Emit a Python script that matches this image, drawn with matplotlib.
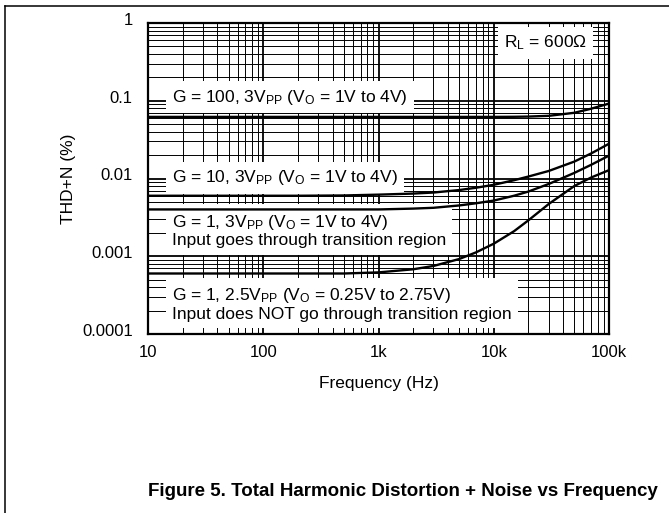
import matplotlib
matplotlib.use("Agg")
import matplotlib.pyplot as plt
from matplotlib.lines import Line2D
from matplotlib.ticker import FixedLocator, LogLocator, NullFormatter
import matplotlib.transforms as mtransforms

plt.rcParams['font.family'] = ['Liberation Sans', 'DejaVu Sans']
plt.rcParams['mathtext.fontset'] = 'custom'
plt.rcParams['mathtext.rm'] = 'Liberation Sans'
plt.rcParams['mathtext.it'] = 'Liberation Sans'

# --- dati ---
freq = [10, 20, 50, 100, 200, 500, 1e3, 2e3, 3e3, 5e3, 7e3, 1e4, 1.5e4, 2e4, 3e4, 5e4, 7e4, 1e5]
thd_g100 = [0.062, 0.062, 0.062, 0.062, 0.062, 0.062, 0.062, 0.062, 0.062, 0.062, 0.062,
            0.062, 0.0622, 0.0626, 0.064, 0.070, 0.079, 0.092]
thd_g10 = [0.006, 0.006, 0.006, 0.006, 0.006, 0.00605, 0.0062, 0.0064, 0.0066, 0.0071, 0.0076,
           0.0083, 0.0095, 0.0106, 0.0125, 0.0165, 0.021, 0.028]
thd_g1 = [0.004, 0.004, 0.004, 0.004, 0.004, 0.004, 0.004, 0.0041, 0.0042, 0.0045, 0.0048,
          0.0052, 0.006, 0.0068, 0.0085, 0.0118, 0.015, 0.0197]
thd_g1_25 = [0.0006, 0.0006, 0.0006, 0.0006, 0.0006, 0.0006, 0.00062, 0.00068, 0.00075, 0.00092,
             0.00112, 0.00145, 0.0021, 0.0029, 0.0047, 0.0080, 0.0103, 0.0128]

xticks = [10, 100, 1e3, 1e4, 1e5]
xlabels = ['10', '100', '1k', '10k', '100k']
yticks = [0.0001, 0.001, 0.01, 0.1, 1]
ylabels = ['0.0001', '0.001', '0.01', '0.1', '1']

fs = 12.5

fig = plt.figure(figsize=(6.69, 5.13), dpi=100)
ax = fig.add_axes([148/669, 1 - 334/513, 461/669, 311/513])

ax.set_xscale('log')
ax.set_yscale('log')
ax.set_xlim(10, 1e5)
ax.set_ylim(1e-4, 1)

# griglia
ax.xaxis.set_major_locator(FixedLocator(xticks))
ax.yaxis.set_major_locator(FixedLocator(yticks))
ax.xaxis.set_minor_locator(LogLocator(base=10, subs=range(2, 10), numticks=20))
ax.yaxis.set_minor_locator(LogLocator(base=10, subs=range(2, 10), numticks=20))
ax.xaxis.set_minor_formatter(NullFormatter())
ax.yaxis.set_minor_formatter(NullFormatter())
ax.grid(which='major', color='black', linewidth=1.3, zorder=1)
ax.grid(which='minor', color='black', linewidth=0.7, zorder=1)
ax.set_axisbelow(True)

ax.set_xticklabels(xlabels, fontsize=12)
ax.set_yticklabels(ylabels, fontsize=12)
ax.tick_params(which='both', length=0)
ax.tick_params(axis='x', pad=8)
ax.tick_params(axis='y', pad=11)
offset = mtransforms.ScaledTranslation(0, 4/100, fig.dpi_scale_trans)
for lbl in ax.get_yticklabels():
    lbl.set_transform(lbl.get_transform() + offset)

for s in ax.spines.values():
    s.set_linewidth(1.6)

# curve
for y in [thd_g100, thd_g10, thd_g1, thd_g1_25]:
    ax.plot(freq, y, color='black', linewidth=1.7, zorder=4)

box = dict(facecolor='white', edgecolor='none', pad=4.5)
ax.text(0.052, 0.762, r'G = 100, 3V$_{\mathregular{PP}}$ (V$_{\mathregular{O}}$ = 1V to 4V)',
        transform=ax.transAxes, fontsize=fs, va='center', ha='left', bbox=box, zorder=3)
ax.text(0.052, 0.502, r'G = 10, 3V$_{\mathregular{PP}}$ (V$_{\mathregular{O}}$ = 1V to 4V)',
        transform=ax.transAxes, fontsize=fs, va='center', ha='left', bbox=box, zorder=3)
ax.text(0.052, 0.333, 'G = 1, 3V$_{\\mathregular{PP}}$ (V$_{\\mathregular{O}}$ = 1V to 4V)\n'
        'Input goes through transition region',
        transform=ax.transAxes, fontsize=fs, va='center', ha='left', bbox=box, zorder=3,
        linespacing=1.15)
ax.text(0.052, 0.0965, 'G = 1, 2.5V$_{\\mathregular{PP}}$ (V$_{\\mathregular{O}}$ = 0.25V to 2.75V)\n'
        'Input does NOT go through transition region',
        transform=ax.transAxes, fontsize=fs, va='center', ha='left', bbox=box, zorder=3,
        linespacing=1.15)
ax.text(0.862, 0.936, r'R$_{\mathregular{L}}$ = 600Ω',
        transform=ax.transAxes, fontsize=fs, va='center', ha='center', bbox=box, zorder=3)

ax.set_ylabel('THD+N (%)', fontsize=12.5, labelpad=4)
ax.set_xlabel('Frequency (Hz)', fontsize=12.5, labelpad=11.5)

fig.text(148/669, 1 - 492/513, 'Figure 5. Total Harmonic Distortion + Noise vs Frequency',
         fontsize=13.5, fontweight='bold', ha='left', va='center')

# cornice
fig.add_artist(Line2D([5/669, 1], [1 - 6/513, 1 - 6/513], transform=fig.transFigure,
                      color='black', linewidth=1.1))
fig.add_artist(Line2D([5/669, 5/669], [0, 1 - 6/513], transform=fig.transFigure,
                      color='black', linewidth=1.1))

fig.savefig('out.png', dpi=100)
